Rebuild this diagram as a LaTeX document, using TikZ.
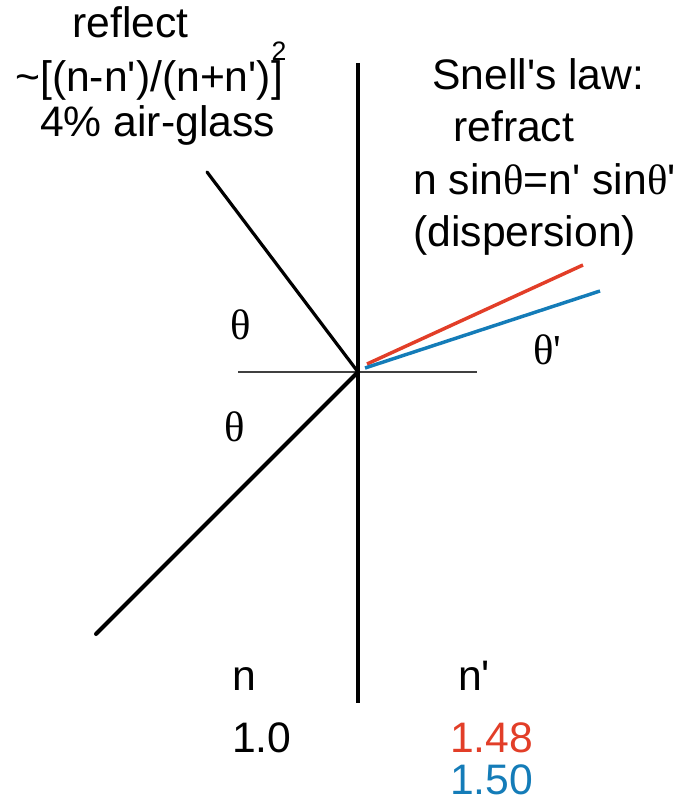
\documentclass[tikz,border=0pt]{standalone}
\usepackage{fontspec}
\setmainfont[Ligatures=TeXOff]{Liberation Sans}
\newfontfamily\grk[Ligatures=TeXOff]{Liberation Serif}
\definecolor{myred}{RGB}{226,62,40}
\definecolor{myblue}{RGB}{20,124,184}
\begin{document}
\begin{tikzpicture}[x=0.75pt,y=-0.75pt,
  lbl/.style={inner sep=0pt,anchor=base west,font=\fontsize{32}{38}\selectfont},
  thl/.style={inner sep=0pt,font=\fontsize{32}{38}\selectfont\grk},
  heavy/.style={line width=3pt,black},
  ray/.style={line width=2.6pt}]
\useasboundingbox (0,0) rectangle (694,798);
% geometry
\coordinate (O) at (358,372);
\coordinate (top) at (358,63);
\coordinate (bot) at (358,703);
\coordinate (hl) at (238,372);
\coordinate (hr) at (477,372);
\coordinate (inc) at (96,634);
\coordinate (refl) at (207,172);
\coordinate (r0) at (367,364);
\coordinate (r1) at (583,265);
\coordinate (b0) at (365,368);
\coordinate (b1) at (600,291);
\draw[line width=0.8pt,black!75] (hl) -- (hr);
\draw[heavy] (top) -- (bot);
\draw[heavy,line cap=round] (inc) -- (O);
\draw[line width=2.4pt,line cap=round] (refl) -- (O);
\draw[ray,myred] (r0) -- (r1);
\draw[ray,myblue] (b0) -- (b1);
% left text
\node[lbl] (t1) at (72,38) {reflect};
\node[lbl] (t2) at (15,92) {\char`\~[(n-n')/(n+n')]};
\node[inner sep=0pt,font=\fontsize{20}{22}\selectfont] (t2s) at (279,51) {2};
\node[lbl] (t3) at (40,137) {4\% air-glass};
% right text
\node[lbl] (s1) at (432,90) {Snell's law:};
\node[lbl] (s2) at (453,142) {refract};
\node[lbl] (s3) at (413,195) {n sin{\grk θ}=n' sin{\grk θ}'};
\node[lbl] (s4) at (413,247) {(dispersion)};
% angles
\node[thl] (th1) at (241,325) {θ};
\node[thl] (th2) at (235,427) {θ};
\node[thl,anchor=west] (th3) at (533,350) {θ'};
% bottom
\node[lbl] (n1) at (232,690) {n};
\node[lbl] (n2) at (458,690) {n'};
\node[lbl] (v1) at (232,752) {1.0};
\node[lbl,text=myred] (v2) at (450,752) {1.48};
\node[lbl,text=myblue] (v3) at (450,794) {1.50};
\end{tikzpicture}
\end{document}
